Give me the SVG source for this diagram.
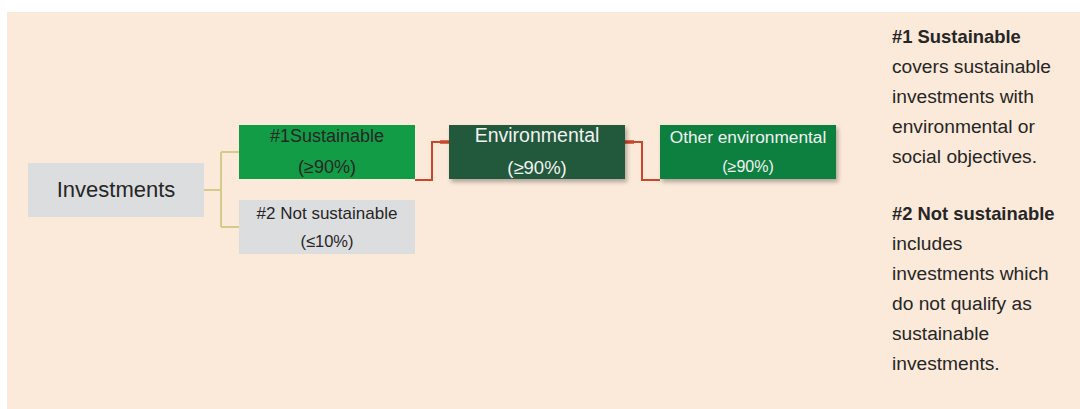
<svg xmlns="http://www.w3.org/2000/svg" width="1080" height="409" viewBox="0 0 1080 409">
<defs>
<style>
text{font-family:"Liberation Sans",Arial,sans-serif;}
.dark{fill:#262626;}
.light{fill:#f2f2f2;}
.mid{text-anchor:middle;}
.tan{fill:none;stroke:#D5C98C;stroke-width:2;}
.red{fill:none;stroke:#C9472B;stroke-width:2;}
.stub{fill:none;stroke:#C9472B;stroke-width:3.5;}
.note{font-size:19.2px;fill:#262626;}
.noteb{font-size:18.4px;font-weight:bold;fill:#262626;}
</style>
<filter id="sh" x="-10%" y="-20%" width="125%" height="150%">
<feDropShadow dx="2" dy="3" stdDeviation="2" flood-color="#000" flood-opacity="0.3"/>
</filter>
</defs>
<rect x="7" y="12" width="1073" height="397" fill="#FBE9D9"/>
<g id="connectors">
<path class="tan" d="M204 190 H221 M221 152 V227 M221 152 H239 M221 227 H239"/>
<path class="red" d="M415 180 H432 V142 H449"/>
<path class="stub" d="M440 142 H449"/>
<path class="red" d="M625 142 H642 V180 H660"/>
<path class="stub" d="M625 142 H634"/>
</g>
<g id="investments">
<rect x="28" y="163" width="176" height="54" fill="#DCDDDF"/>
<text class="dark mid" x="116" y="197" font-size="22">Investments</text>
</g>
<g id="sustainable">
<rect x="239" y="125" width="176" height="54" fill="#139C46"/>
<text class="dark mid" x="327" y="142" font-size="18">#1Sustainable</text>
<text class="dark mid" x="327" y="173" font-size="18">(≥90%)</text>
</g>
<g id="not-sustainable">
<rect x="239" y="200" width="176" height="54" fill="#DCDDDF"/>
<text class="dark mid" x="327" y="219" font-size="17">#2 Not sustainable</text>
<text class="dark mid" x="327" y="247" font-size="16.5">(≤10%)</text>
</g>
<g id="environmental">
<rect x="449" y="125" width="176" height="54" fill="#22583A" filter="url(#sh)"/>
<text class="light mid" x="537" y="142" font-size="19.5">Environmental</text>
<text class="light mid" x="537" y="174" font-size="18.5">(≥90%)</text>
</g>
<g id="other-environmental">
<rect x="660" y="125" width="176" height="54" fill="#0E8041" filter="url(#sh)"/>
<text class="light mid" x="748" y="143" font-size="17.3">Other environmental</text>
<text class="light mid" x="748" y="172" font-size="16">(≥90%)</text>
</g>
<g id="legend">
<text class="noteb" x="892" y="43">#1 Sustainable</text>
<text class="note" x="892" y="73">covers sustainable</text>
<text class="note" x="892" y="103">investments with</text>
<text class="note" x="892" y="133">environmental or</text>
<text class="note" x="892" y="163">social objectives.</text>
<text class="noteb" x="892" y="220">#2 Not sustainable</text>
<text class="note" x="892" y="250">includes</text>
<text class="note" x="892" y="280">investments which</text>
<text class="note" x="892" y="310">do not qualify as</text>
<text class="note" x="892" y="340">sustainable</text>
<text class="note" x="892" y="370">investments.</text>
</g>
</svg>
